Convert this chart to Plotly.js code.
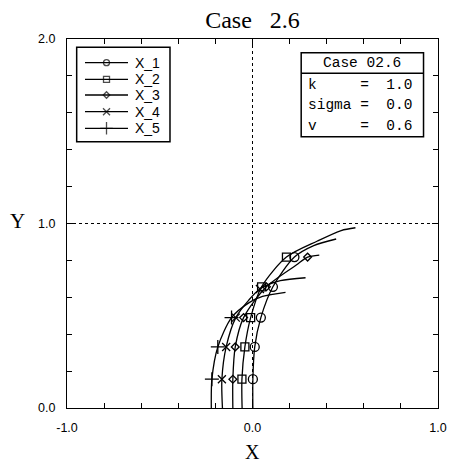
<!DOCTYPE html>
<html><head><meta charset="utf-8">
<script src="https://cdn.plot.ly/plotly-3.0.1.min.js"></script>
<style>body{margin:0;padding:0;background:#fff}#chart{width:454px;height:466px}</style>
</head><body><div id="chart"></div><script>
const seriesNames = ['X_1','X_2','X_3','X_4','X_5'];
const x1 = [0.002, 0.002, 0.012, 0.045, 0.11, 0.226, 0.33, 0.451];
const y1 = [0, 0.156, 0.331, 0.49, 0.657, 0.818, 0.88, 0.916];
const m1 = [1, 2, 3, 4, 5];
const x2 = [-0.056, -0.057, -0.041, -0.01, 0.049, 0.183, 0.35, 0.478, 0.555];
const y2 = [0, 0.156, 0.331, 0.49, 0.657, 0.818, 0.905, 0.962, 0.977];
const m2 = [1, 2, 3, 4, 5];
const x3 = [-0.106, -0.106, -0.093, -0.048, 0.075, 0.236, 0.297, 0.36];
const y3 = [0, 0.156, 0.331, 0.49, 0.657, 0.775, 0.818, 0.829];
const m3 = [1, 2, 3, 4, 6];
const x4 = [-0.162, -0.165, -0.142, -0.09, -0.02, 0.04, 0.15, 0.286];
const y4 = [0, 0.156, 0.331, 0.49, 0.585, 0.645, 0.69, 0.706];
const m4 = [1, 2, 3, 5];
const x5 = [-0.222, -0.219, -0.187, -0.113, -0.02, 0.054, 0.178];
const y5 = [0, 0.156, 0.331, 0.49, 0.57, 0.605, 0.627];
const m5 = [1, 2, 3];
const infoTitle = 'Case 02.6';
const infoLabels = ['k', 'sigma', 'v'];
const infoValues = ['1.0', '0.0', '0.6'];
const xTicks = [-1, 0, 1];
const xTickText = ['-1.0', '0.0', '1.0'];
const yTicks = [0, 1, 2];
const yTickText = ['0.0', '1.0', '2.0'];

const XS = [x1, x2, x3, x4, x5], YS = [y1, y2, y3, y4, y5], MS = [m1, m2, m3, m4, m5];
const symbols = ['circle-open', 'square-open', 'diamond-open', 'x-thin-open', 'cross-thin-open'];
const plotSizes = [9, 8, 6, 8, 10];
const legSizes = [6, 6, 5, 7, 9];

const traces = [];
for (let i = 0; i < 5; i++) {
  traces.push({x: XS[i], y: YS[i], mode: 'lines', type: 'scatter', showlegend: false,
    line: {color: '#000', width: 1.3, shape: 'spline', smoothing: 0.8}, hoverinfo: 'skip'});
  traces.push({x: MS[i].map(k => XS[i][k]), y: MS[i].map(k => YS[i][k]), mode: 'markers', type: 'scatter', showlegend: false,
    marker: {symbol: symbols[i], size: plotSizes[i], color: '#000', line: {color: '#000', width: 1.3}}});
}

// hand-drawn legend (paper-fraction positions on an invisible overlay axis)
const legRowY = [0.9358, 0.8908, 0.8482, 0.8030, 0.7580];
const legLineX0 = 0.0485, legLineX1 = 0.1644, legMarkX = 0.1065, legTextX = 0.1771;
traces.push({x: legRowY.map(() => legMarkX), y: legRowY, xaxis: 'x2', yaxis: 'y2', mode: 'markers', type: 'scatter', showlegend: false,
  marker: {symbol: symbols, size: legSizes, color: '#000', line: {color: '#000', width: 1.3}}});

const nb = '\u00a0';
function row(label, val) {
  let s = label;
  while (s.length < 6) s += ' ';
  s += '=  ' + val;
  return s.replace(/ /g, nb);
}
const monoFont = {family: 'Liberation Mono, monospace', size: 14.5, color: '#000'};
const annotations = [
  {xref: 'x', yref: 'y', x: 0.592, y: 1.868, text: infoTitle.replace(/ /g, nb), showarrow: false, font: monoFont, xanchor: 'center', yanchor: 'middle'},
  {xref: 'paper', yref: 'paper', x: 0.5, y: -0.1192, text: 'X', showarrow: false, font: {family: 'Liberation Serif, serif', size: 20, color: '#000'}, xanchor: 'center', yanchor: 'middle'},
  {xref: 'paper', yref: 'paper', x: -0.134, y: 0.506, text: 'Y', showarrow: false, font: {family: 'Liberation Serif, serif', size: 21, color: '#000'}, xanchor: 'center', yanchor: 'middle'}
];
const rowY = [1.751, 1.642, 1.528];
for (let i = 0; i < infoLabels.length; i++) {
  annotations.push({xref: 'x', yref: 'y', x: 0.288, y: rowY[i], text: row(infoLabels[i], infoValues[i]), showarrow: false,
    font: monoFont, xanchor: 'left', yanchor: 'middle'});
}
for (let i = 0; i < seriesNames.length; i++) {
  annotations.push({xref: 'paper', yref: 'paper', x: legTextX, y: legRowY[i], text: seriesNames[i], showarrow: false,
    font: {family: 'Liberation Sans, Arial, sans-serif', size: 14, color: '#000'}, xanchor: 'left', yanchor: 'middle'});
}

const shapes = [
  {type: 'rect', xref: 'x', yref: 'y', x0: 0.2625, x1: 0.922, y0: 1.47, y1: 1.926, line: {color: '#000', width: 1.5}, fillcolor: '#fff', layer: 'above'},
  {type: 'line', xref: 'x', yref: 'y', x0: 0.2625, x1: 0.922, y0: 1.814, y1: 1.814, line: {color: '#000', width: 1.5}},
  {type: 'rect', xref: 'paper', yref: 'paper', x0: 0.0261, x1: 0.2776, y0: 0.7217, y1: 0.9775, line: {color: '#000', width: 1.5}, fillcolor: '#fff', layer: 'below'}
];
legRowY.forEach(yv => shapes.push({type: 'line', xref: 'paper', yref: 'paper', x0: legLineX0, x1: legLineX1, y0: yv, y1: yv, line: {color: '#000', width: 1.3}}));

const axisCommon = {
  showline: true, linecolor: '#000', linewidth: 1, mirror: 'allticks',
  ticks: 'inside', ticklen: 6, tickcolor: '#000', tickwidth: 1,
  showgrid: true, gridcolor: '#000', gridwidth: 1, griddash: 'dot',
  zeroline: false, tickmode: 'array',
  tickfont: {family: 'Liberation Sans, Arial, sans-serif', size: 12.5, color: '#000'},
  minor: {dtick: 0.2, ticks: 'inside', ticklen: 5, tickcolor: '#000', showgrid: false}
};

const layout = {
  width: 454, height: 466,
  margin: {l: 67, r: 16, t: 39, b: 58},
  paper_bgcolor: '#fff', plot_bgcolor: '#fff',
  title: {text: 'Case' + nb + nb + nb + '2.6', font: {family: 'Liberation Serif, serif', size: 24, color: '#000'}, x: 0.5, xref: 'paper', xanchor: 'center', y: 0.957, yref: 'container', yanchor: 'middle'},
  xaxis: Object.assign({}, axisCommon, {range: [-1, 1], tickvals: xTicks, ticktext: xTickText, ticklabelstandoff: 8, minor: Object.assign({}, axisCommon.minor, {tick0: -1})}),
  yaxis: Object.assign({}, axisCommon, {range: [0, 2], tickvals: yTicks, ticktext: yTickText, ticklabelstandoff: 8, minor: Object.assign({}, axisCommon.minor, {tick0: 0})}),
  xaxis2: {overlaying: 'x', anchor: 'y2', range: [0, 1], visible: false, fixedrange: true},
  yaxis2: {overlaying: 'y', anchor: 'x2', range: [0, 1], visible: false, fixedrange: true},
  showlegend: false,
  shapes: shapes,
  annotations: annotations
};
Plotly.newPlot('chart', traces, layout, {displayModeBar: false, staticPlot: true});
</script></body></html>
